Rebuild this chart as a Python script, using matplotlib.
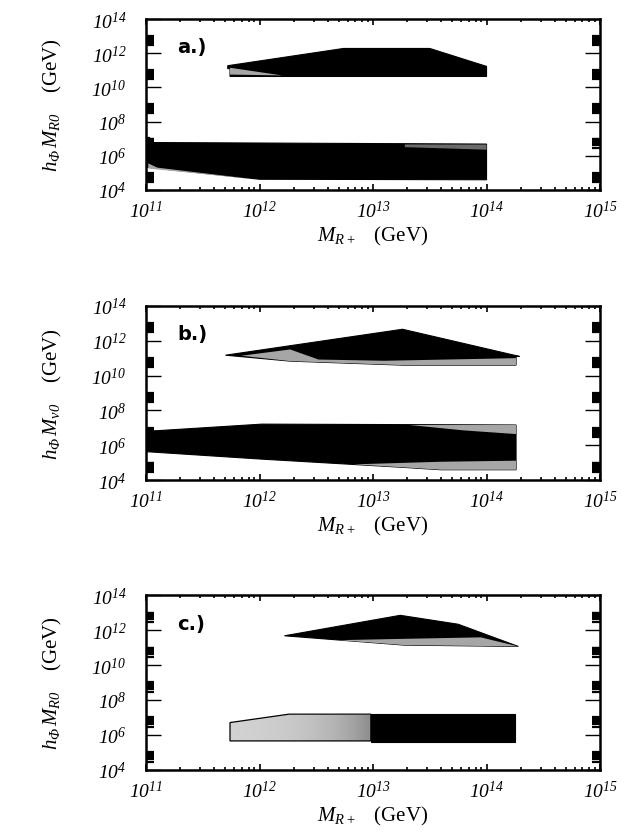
# allowed regions in the (M_R+, h_Phi M_R0) plane, three scenarios

import numpy as np
import matplotlib.pyplot as plt
from matplotlib.ticker import FixedLocator, FuncFormatter
from matplotlib.colors import LinearSegmentedColormap

plt.rcParams['font.family'] = ['Liberation Serif', 'DejaVu Serif']
plt.rcParams['mathtext.fontset'] = 'custom'
plt.rcParams['mathtext.rm'] = 'Liberation Serif:italic'
plt.rcParams['mathtext.it'] = 'Liberation Serif:italic'
plt.rcParams['mathtext.bf'] = 'Liberation Serif:bold'

# polygons given as log10(M_R+) and log10(h M_R0)
# panel a
a_up_x = [11.72, 12.74, 13.50, 14.00, 14.00, 11.74, 11.74, 11.72]
a_up_y = [11.27, 12.28, 12.28, 11.23, 10.64, 10.64, 11.10, 11.10]
a_upg_x = [11.74, 12.20, 11.74]
a_upg_y = [11.15, 10.70, 10.75]
a_lo_x = [11.00, 11.03, 11.05, 14.00, 14.00, 12.00, 11.03, 11.00]
a_lo_y = [7.07, 7.07, 6.77, 6.68, 4.59, 4.62, 5.31, 5.31]
a_log_x = [11.02, 11.10, 11.95, 11.02]
a_log_y = [5.55, 5.30, 4.62, 5.25]
a_lotg_x = [13.28, 14.00, 14.00, 13.28]
a_lotg_y = [6.66, 6.65, 6.35, 6.50]

# panel b
b_up_x = [11.70, 13.26, 14.29, 14.26, 14.26, 13.26, 12.27, 11.70]
b_up_y = [11.17, 12.66, 11.10, 11.10, 10.60, 10.60, 10.83, 11.17]
b_upg_x = [11.84, 12.27, 12.52, 13.10, 14.26, 14.26, 13.26, 12.27, 11.84]
b_upg_y = [11.14, 11.50, 10.92, 10.85, 11.00, 10.60, 10.60, 10.83, 11.14]
b_lo_x = [11.00, 11.09, 12.02, 14.26, 14.26, 13.60, 13.26, 12.02, 11.00]
b_lo_y = [6.83, 6.83, 7.21, 7.16, 4.59, 4.59, 4.73, 5.20, 5.63]
b_lotg_x = [13.32, 14.26, 14.26, 13.80]
b_lotg_y = [7.16, 7.16, 6.64, 6.85]
b_lobg_x = [12.83, 13.60, 14.26, 14.26, 13.60, 13.26]
b_lobg_y = [4.90, 5.05, 5.11, 4.59, 4.59, 4.73]

# panel c
c_up_x = [12.22, 13.24, 13.75, 14.28, 13.27, 12.22]
c_up_y = [11.67, 12.84, 12.33, 11.06, 11.14, 11.67]
c_upg_x = [12.70, 13.30, 13.95, 14.28, 13.27]
c_upg_y = [11.42, 11.50, 11.58, 11.06, 11.14]
c_log_x = [11.74, 12.26, 12.98, 12.98, 11.74]
c_log_y = [6.71, 7.19, 7.19, 5.66, 5.66]
c_lob_x = [12.98, 14.25, 14.25, 12.98]
c_lob_y = [7.19, 7.19, 5.60, 5.60]

panels = [
    ('a.)', r'$h_{\Phi}\,M_{R0}$',
     [(a_up_x, a_up_y, 'k'), (a_upg_x, a_upg_y, 'g'),
      (a_lo_x, a_lo_y, 'k'), (a_log_x, a_log_y, 'g'), (a_lotg_x, a_lotg_y, 'd')]),
    ('b.)', r'$h_{\Phi}\,M_{\nu 0}$',
     [(b_up_x, b_up_y, 'k'), (b_upg_x, b_upg_y, 'g'),
      (b_lo_x, b_lo_y, 'k'), (b_lotg_x, b_lotg_y, 'g'), (b_lobg_x, b_lobg_y, 'g')]),
    ('c.)', r'$h_{\Phi}\,M_{R0}$',
     [(c_up_x, c_up_y, 'k'), (c_upg_x, c_upg_y, 'g'),
      (c_log_x, c_log_y, 'e'), (c_lob_x, c_lob_y, 'k')]),
]

x_dec = [11, 12, 13, 14, 15]
y_dec = [4, 6, 8, 10, 12, 14]

fig = plt.figure(figsize=(6.28, 8.37), dpi=100)
boxes = [(0.772, 0.204), (0.4253, 0.208), (0.0789, 0.209)]
shade = LinearSegmentedColormap.from_list('shade', ['#d2d2d2', '#8c8c8c'])


def powfmt(v, pos):
    return r'$10^{%d}$' % int(round(np.log10(v)))


for (tag, ylab, polys), (b, h) in zip(panels, boxes):
    ax = fig.add_axes([0.2325, b, 0.723, h])
    for px, py, kind in polys:
        xs = 10.0 ** np.array(px)
        ys = 10.0 ** np.array(py)
        if kind == 'k':
            ax.fill(xs, ys, color='black', lw=0.8)
        elif kind == 'g':
            ax.fill(xs, ys, facecolor='#a6a6a6', edgecolor='none', lw=0)
        elif kind == 'd':
            ax.fill(xs, ys, facecolor='#6a6a6a', edgecolor='none', lw=0)
        else:
            # shaded region: light on the left, darker towards the right
            patch = ax.fill(xs, ys, facecolor='none', edgecolor='black', lw=0.9, zorder=3)[0]
            im = ax.imshow(np.linspace(0, 1, 64).reshape(1, -1), cmap=shade, aspect='auto',
                           extent=(xs.min(), xs.max(), ys.min(), ys.max()), zorder=2)
            im.set_clip_path(patch)
    ax.set_xscale('log')
    ax.set_yscale('log')
    ax.set_xlim(1e11, 1e15)
    ax.set_ylim(1e4, 1e14)

    ax.xaxis.set_major_locator(FixedLocator([10.0 ** d for d in x_dec]))
    ax.xaxis.set_minor_locator(FixedLocator([k * 10.0 ** d for d in x_dec[:-1] for k in range(2, 10)]))
    ax.yaxis.set_major_locator(FixedLocator([10.0 ** d for d in y_dec]))
    ax.yaxis.set_minor_locator(FixedLocator([k * 10.0 ** d for d in range(4, 14, 2) for k in range(3, 11)]))
    ax.xaxis.set_major_formatter(FuncFormatter(powfmt))
    ax.yaxis.set_major_formatter(FuncFormatter(powfmt))
    ax.xaxis.set_minor_formatter(FuncFormatter(lambda v, p: ''))
    ax.yaxis.set_minor_formatter(FuncFormatter(lambda v, p: ''))

    ax.tick_params(axis='both', which='both', direction='in', top=True, right=True, labelsize=14)
    ax.tick_params(axis='x', which='major', length=4, width=1.2, pad=7)
    ax.tick_params(axis='x', which='minor', length=2.5, width=1.2)
    ax.tick_params(axis='y', which='major', length=11, width=1.0, pad=14)
    ax.tick_params(axis='y', which='minor', length=6, width=1.6)
    for s in ax.spines.values():
        s.set_linewidth(1.8)

    ax.text(0.068, 0.84, tag, transform=ax.transAxes, fontsize=14, fontweight='bold',
            family='DejaVu Sans', va='center')
    ax.set_xlabel(r'$M_{R+}$   (GeV)', fontsize=15, labelpad=2)
    ax.set_ylabel(ylab + '    (GeV)', fontsize=15, labelpad=20)

fig.savefig('out.png', dpi=100)
